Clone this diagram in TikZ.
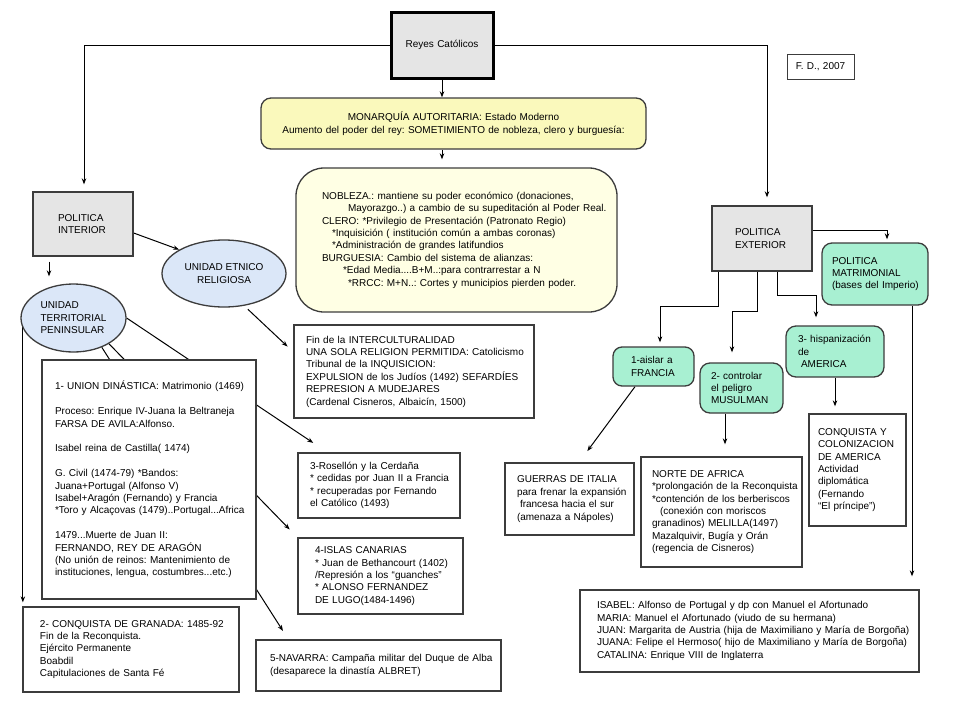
\documentclass[tikz,border=0pt]{standalone}
\usepackage{fontspec}
\setmainfont{Liberation Sans}
\usetikzlibrary{shapes.geometric,arrows.meta,backgrounds}
\frenchspacing

\definecolor{gris}{RGB}{229,229,229}
\definecolor{amarillo}{RGB}{250,249,188}
\definecolor{crema}{RGB}{255,255,228}
\definecolor{celeste}{RGB}{219,231,248}
\definecolor{menta}{RGB}{168,240,210}
\definecolor{borde}{RGB}{60,60,60}

\tikzset{
    caja/.style 2 args={draw=borde, line width=1.3pt, fill=white, align=left,
        inner xsep=0pt, inner ysep=0pt, text width=#1pt, minimum height=#2pt},
    sangria/.style={execute at begin node={\leftskip=#1pt}},
    ovalo/.style={ellipse, draw=borde, line width=1.3pt, fill=celeste, inner sep=0pt},
    flecha/.style={-{Stealth[length=6pt,width=4.5pt]}, line width=1pt},
}

\begin{document}
\begin{tikzpicture}[x=1pt, y=-1pt, font=\fontsize{10}{12.4}\selectfont]
                    \useasboundingbox (0,0) rectangle (960,720);

                    \node[caja={102}{66}, align=center, draw=black, line width=3pt, fill=gris] (reyes) at (442,45) {Reyes Católicos};
                    \node[caja={67}{25}, align=center, line width=1pt] (fd) at (820.5,66.5) {F. D., 2007};

                    \node[caja={385}{51}, align=center, fill=amarillo, rounded corners=10pt] (mon) at (453.5,123.5)
                        {MONARQUÍA AUTORITARIA: Estado Moderno\\Aumento del poder del rey: SOMETIMIENTO de nobleza, clero y burguesía:};
                    \node[caja={321}{144}, sangria=26, fill=crema, rounded corners=28pt] (nob) at (456.5,240)
                        {NOBLEZA.: mantiene su poder económico (donaciones,\\
                         \hspace*{26pt}Mayorazgo..) a cambio de su supeditación al Poder Real.\\
                         CLERO: *Privilegio de Presentación (Patronato Regio)\\
                         \hspace*{10pt}*Inquisición ( institución común a ambas coronas)\\
                         \hspace*{10pt}*Administración de grandes latifundios\\
                         BURGUESIA: Cambio del sistema de alianzas:\\
                         \hspace*{21pt}*Edad Media....B+M..:para contrarrestar a N\\
                         \hspace*{26pt}*RRCC: M+N..: Cortes y municipios pierden poder.};

                    % politica interior
                    \node[caja={100}{64}, sangria=25, fill=gris] (pi) at (83,224) {POLITICA\\INTERIOR};
                    \node[ovalo, minimum width=124pt, minimum height=67pt, align=center] (etnico) at (224,273.5) {UNIDAD ETNICO\\RELIGIOSA};
                    \node[ovalo, minimum width=105pt, minimum height=68pt, align=left] (terr) at (73.5,318) {UNIDAD\\TERRITORIAL\\PENINSULAR};

                    \node[caja={240}{93}, sangria=12] (intercult) at (414,371.5)
                        {Fin de la INTERCULTURALIDAD\\UNA SOLA RELIGION PERMITIDA: Catolicismo\\Tribunal de la INQUISICION:\\
                         EXPULSION de los Judíos (1492) SEFARDÍES\\REPRESION A MUDEJARES\\(Cardenal Cisneros, Albaicín, 1500)};
                    \node[caja={214}{239}, sangria=13] (dinastica) at (149,479.5)
                        {1- UNION DINÁSTICA: Matrimonio (1469)\\[12.4pt]
                         Proceso: Enrique IV-Juana la Beltraneja\\FARSA DE AVILA:Alfonso.\\[12.4pt]
                         Isabel reina de Castilla( 1474)\\[12.4pt]
                         G. Civil (1474-79) *Bandos:\\Juana+Portugal (Alfonso V)\\Isabel+Aragón (Fernando) y Francia\\{}
                         *Toro y Alcaçovas (1479)..Portugal...Africa\\[12.4pt]
                         1479...Muerte de Juan II:\\FERNANDO, REY DE ARAGÓN\\(No unión de reinos: Mantenimiento de\\
                         instituciones, lengua, costumbres...etc.)};
                    \node[caja={216}{85}, sangria=17] (granada) at (131,649.5)
                        {2- CONQUISTA DE GRANADA: 1485-92\\Fin de la Reconquista.\\Ejército Permanente\\Boabdil\\Capitulaciones de Santa Fé};
                    \node[caja={162}{65}, sangria=12] (rosellon) at (379,485.5)
                        {3-Rosellón y la Cerdaña\\{}* cedidas por Juan II a Francia\\{}* recuperadas por Fernando\\el Católico (1493)};
                    \node[caja={165}{76}, sangria=17] (canarias) at (380.5,576)
                        {4-ISLAS CANARIAS\\{}* Juan de Bethancourt (1402)\\/Represión a los “guanches”\\{}* ALONSO FERNANDEZ\\DE LUGO(1484-1496)};
                    \node[caja={245}{51}, sangria=14] (navarra) at (378.5,665.5)
                        {5-NAVARRA: Campaña militar del Duque de Alba\\(desaparece la dinastía ALBRET)};

                    % politica exterior
                    \node[caja={100}{65}, sangria=23, fill=gris] (pe) at (762,238.5) {POLITICA\\EXTERIOR};
                    \node[caja={106}{62}, sangria=10, fill=menta, rounded corners=10pt] (pm) at (875,274)
                        {POLITICA\\MATRIMONIAL\\(bases del Imperio)};
                    \node[caja={81}{39}, sangria=18, fill=menta, rounded corners=9pt] (aislar) at (653.5,366.5) {1-aislar a\\FRANCIA};
                    \node[caja={83}{50}, sangria=11, fill=menta, rounded corners=10pt] (controlar) at (741.5,388)
                        {2- controlar\\el peligro\\MUSULMAN};
                    \node[caja={98}{51}, sangria=12, fill=menta, rounded corners=10pt] (hispan) at (835,351.5)
                        {3- hispanización\\de\\\hspace*{3pt}AMERICA};
                    \node[caja={129}{72}, sangria=12] (guerras) at (569.5,499)
                        {GUERRAS DE ITALIA\\para frenar la expansión\\\hspace*{3pt}francesa hacia el sur\\(amenaza a Nápoles)};
                    \node[caja={161}{110}, sangria=11] (norte) at (721.5,512)
                        {NORTE DE AFRICA\\{}*prolongación de la Reconquista\\{}*contención de los berberiscos\\
                         \hspace*{8pt}(conexión con moriscos\\granadinos) MELILLA(1497)\\Mazalquivir, Bugía y Orán\\(regencia de Cisneros)};
                    \node[caja={97}{112}, sangria=9] (conquista) at (857.5,470)
                        {CONQUISTA Y\\COLONIZACION\\DE AMERICA\\Actividad\\diplomática\\(Fernando\\“El príncipe”)};
                    \node[caja={339}{82}, sangria=17] (matrimonios) at (749.5,631)
                        {ISABEL: Alfonso de Portugal y dp con Manuel el Afortunado\\
                         MARIA: Manuel el Afortunado (viudo de su hermana)\\
                         JUAN: Margarita de Austria (hija de Maximiliano y María de Borgoña)\\
                         JUANA: Felipe el Hermoso( hijo de Maximiliano y María de Borgoña)\\
                         CATALINA: Enrique VIII de Inglaterra};

                    \begin{scope}[on background layer]
                        \draw[flecha, shorten >=7pt] (reyes.west) -| ([xshift=1pt]pi.north);
                        \draw[flecha, shorten >=8pt] (reyes.east) -| ([xshift=5pt]pe.north);
                        \draw[flecha] (reyes.south) -- (reyes.south |- mon.north);
                        \draw[flecha, shorten >=8pt] (reyes.south |- mon.south) -- (reyes.south |- nob.north);

                        \draw[flecha] ([yshift=-9pt]pi.east) -- (etnico.152);
                        \draw[flecha, shorten <=5pt, shorten >=7pt] ([xshift=-34pt]pi.south) -- ([xshift=-34pt]pi.south |- terr.north);
                        \draw[flecha, shorten <=5pt, shorten >=8pt] (etnico.-58) -- ([yshift=19.5pt]intercult.west);
                        \draw[flecha, shorten >=17pt] (terr.east) -- ([xshift=30pt]rosellon.north west);
                        \draw[flecha, shorten >=11pt] (terr.-36) -- (canarias.north west);
                        \draw[flecha, shorten >=10pt] (terr.-46) -- ([xshift=33pt]navarra.north west);
                        \draw[flecha, shorten >=4pt] ([xshift=2.5pt]terr.west) -- ([xshift=2.5pt]terr.west |- granada.north);

                        \draw[flecha, shorten >=3pt] ([yshift=8.5pt]pe.east) -| ([xshift=12pt]pm.north);
                        \draw[flecha, shorten >=4pt] ([xshift=-44pt]pe.south) -- ++(0,35) -| ([xshift=6.5pt]aislar.north);
                        \draw[flecha, shorten >=10pt] ([xshift=-5pt]pe.south) -- ++(0,40) -| ([xshift=-9.5pt]controlar.north);
                        \draw[flecha, shorten >=8pt] ([xshift=15pt]pe.south) -- ++(0,24) -| ([xshift=-19pt]hispan.north);
                        \draw[flecha, shorten >=13pt] ([xshift=37pt]pm.south) -- ([xshift=37pt]pm.south |- matrimonios.north);
                        \draw[flecha, shorten >=14pt] ([xshift=-18.5pt]aislar.south) -- ([xshift=9.5pt]guerras.north);
                        \draw[flecha, shorten >=12pt] ([xshift=-16.5pt]controlar.south) -- ([xshift=-16.5pt]controlar.south |- norte.north);
                        \draw[flecha, shorten >=7pt] (hispan.south) -- (hispan.south |- conquista.north);
                    \end{scope}

                \end{tikzpicture}
\end{document}
